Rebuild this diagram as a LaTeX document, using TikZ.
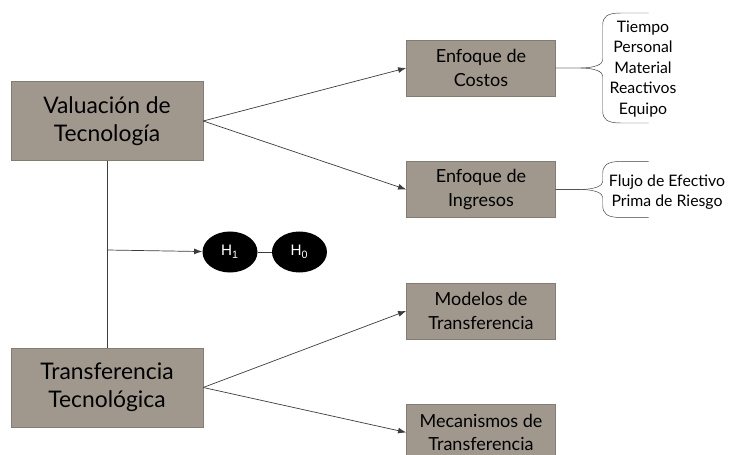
\documentclass[tikz,border=0pt]{standalone}
\usepackage{fontspec}
\setmainfont{Lato}
\newfontfamily\arialfont{Liberation Sans}
\usepackage{tikz}
\usetikzlibrary{positioning}
\usetikzlibrary{arrows.meta}
\usetikzlibrary{shapes}
\definecolor{cafe}{RGB}{160,152,140}
\definecolor{cafeborde}{RGB}{130,124,114}
\definecolor{gristrazo}{RGB}{60,60,60}

\begin{document}
\begin{tikzpicture}[x=0.03cm,y=-0.03cm]
% estilos
\tikzstyle cajagrande=[draw=cafeborde,fill=cafe,minimum width=5.76cm,minimum height=2.37cm,inner sep=0pt,align=center,font=\fontsize{19.5}{24}\selectfont]
\tikzstyle cajachica=[draw=cafeborde,fill=cafe,minimum width=4.47cm,minimum height=1.68cm,inner sep=0pt,align=center,font=\fontsize{15.4}{20}\selectfont]
\tikzstyle hipotesis=[ellipse,fill=black,text=white,minimum width=1.65cm,minimum height=1.23cm,inner sep=0pt,font=\arialfont\fontsize{13}{14}\selectfont]
\tikzstyle flecha=[draw=gristrazo,semithick,-{Latex[length=7pt,width=5pt]}]
\tikzstyle linea=[draw=gristrazo,semithick]
\tikzstyle llave=[draw=gristrazo,thin]
\tikzstyle lista=[align=center,font=\fontsize{13.5}{17.5}\selectfont]
% la llave : punto de salida, brazo, media altura
\newcommand{\llave}[3]{%
  \draw[llave] (#1) -- ++(#2,0) .. controls ++(16,0) and ++(0,4) .. ++(23,-8) -- ++(0,-#3+20)
    .. controls ++(0,-8) and ++(-14,0) .. ++(18,-12) -- ++(28,0);
  \draw[llave] (#1) -- ++(#2,0) .. controls ++(16,0) and ++(0,-4) .. ++(23,8) -- ++(0,#3-20)
    .. controls ++(0,8) and ++(-14,0) .. ++(18,12) -- ++(28,0);
}
\useasboundingbox (0,0) rectangle (729,455);
% las cajas
\node[cajagrande] (valuacion) at (107,121) {Valuación de\\Tecnología};
\node[cajagrande,below=5.61cm of valuacion] (transferencia) {Transferencia\\Tecnológica};
\node[cajachica] (costos) at (481,68) {Enfoque de\\Costos};
\node[cajachica,below=1.95cm of costos] (ingresos) {Enfoque de\\Ingresos};
\node[cajachica,below=1.95cm of ingresos] (modelos) {Modelos de\\Transferencia};
\node[cajachica,below=1.95cm of modelos] (mecanismos) {Mecanismos de\\Transferencia};
% las hipotesis
\node[hipotesis] (h1) at (230,252) {H\textsubscript{1}};
\node[hipotesis,right=0.42cm of h1] (h0) {H\textsubscript{0}};
\coordinate (cruce) at (107,250);
% las flechas
\draw[linea] (valuacion) -- (transferencia);
\draw[flecha] (cruce) -- (h1);
\draw[linea] (h1) -- (h0);
\draw[flecha] (valuacion.east) -- (costos.west);
\draw[flecha] (valuacion.east) -- (ingresos.west);
\draw[flecha] (transferencia.east) -- (modelos.west);
\draw[flecha] (transferencia.east) -- (mecanismos.west);
% las llaves
\llave{costos.east}{24}{55}
\llave{ingresos.east}{24}{28}
\node[lista] (listacostos) at (643,69) {Tiempo\\Personal\\Material\\Reactivos\\Equipo};
\node[lista] (listaingresos) at (667,192) {Flujo de Efectivo\\Prima de Riesgo};
\end{tikzpicture}
\end{document}
